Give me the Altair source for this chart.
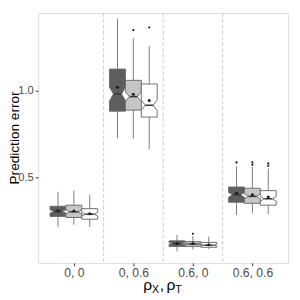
import altair as alt
import pandas as pd

groups = ["0, 0", "0, 0.6", "0.6, 0", "0.6, 0.6"]
methods = ["M1", "M2", "M3"]
fills = ["#5e5e5e", "#c6c6c6", "#ffffff"]

# values per group (rows) and method (columns)
q1 = [[0.274, 0.268, 0.258], [0.882, 0.888, 0.848], [0.101, 0.101, 0.096], [0.356, 0.350, 0.339]]
med = [[0.303, 0.301, 0.287], [0.981, 0.966, 0.916], [0.118, 0.115, 0.108], [0.399, 0.390, 0.376]]
q3 = [[0.333, 0.339, 0.319], [1.125, 1.060, 1.039], [0.133, 0.129, 0.124], [0.444, 0.437, 0.423]]
lo = [[0.213, 0.226, 0.213], [0.726, 0.725, 0.661], [0.073, 0.083, 0.086], [0.283, 0.292, 0.288]]
hi = [[0.417, 0.423, 0.399], [1.416, 1.303, 1.258], [0.167, 0.161, 0.157], [0.563, 0.559, 0.551]]
mean = [[0.307, 0.305, 0.290], [1.020, 0.980, 0.944], [0.118, 0.118, 0.111], [0.408, 0.399, 0.386]]
n_obs = 100

out_group = [1, 1, 2, 3, 3, 3, 3, 3]
out_method = [1, 2, 1, 0, 1, 1, 2, 2]
out_value = [1.350, 1.365, 0.174, 0.586, 0.587, 0.573, 0.581, 0.567]

dodge = 0.8 / 3
hw = dodge / 2

poly, box = [], []
for g in range(len(groups)):
    for m in range(len(methods)):
        c = g + (m - 1) * dodge
        a, md, b = q1[g][m], med[g][m], q3[g][m]
        nh = 1.58 * (b - a) / n_obs ** 0.5
        nlo, nhi = max(a, md - nh), min(b, md + nh)
        bid = f"{g}-{m}"
        for yv, w in [(a, hw), (nlo, hw), (md, hw / 2), (nhi, hw), (b, hw)]:
            poly.append({"id": bid, "method": methods[m], "y": yv, "xl": c - w, "xr": c + w})
        box.append({"id": bid, "method": methods[m], "c": c, "ml": c - hw / 2, "mr": c + hw / 2,
                    "q1": a, "med": md, "q3": b, "lo": lo[g][m], "hi": hi[g][m], "mean": mean[g][m]})
poly = pd.DataFrame(poly)
box = pd.DataFrame(box)
outs = pd.DataFrame({"x": [g + (m - 1) * dodge for g, m in zip(out_group, out_method)],
                     "v": out_value})
seps = pd.DataFrame({"x": [0.5, 1.5, 2.5]})

label_expr = "[" + ",".join(f"'{g}'" for g in groups) + "][datum.value]"
X = alt.Scale(domain=[-0.6, 3.6], nice=False, zero=False)
Y = alt.Scale(domain=[0.0056, 1.449], nice=False, zero=False)

xaxis = alt.Axis(values=[0, 1, 2, 3], labelExpr=label_expr, title=None, grid=False,
                 domain=False, tickSize=3, tickColor="#333333", labelColor="#4d4d4d",
                 labelFontSize=12.5, labelPadding=1, labelFont="Liberation Sans")
yaxis = alt.Axis(values=[0.5, 1.0], format=".1f", title="Prediction error", grid=False,
                 domain=False, tickSize=3, tickColor="#333333", labelColor="#4d4d4d",
                 labelFontSize=11.5, labelPadding=2, labelFont="Liberation Sans",
                 titleFont="Liberation Sans", titleFontSize=14, titleFontWeight="normal",
                 titleColor="#000000", titleX=-31, titleY=128, titleAngle=270,
                 titleAlign="center", titleBaseline="top")

sep = alt.Chart(seps).mark_rule(color="#cccccc", strokeDash=[4, 2], strokeWidth=1).encode(
    x=alt.X("x:Q", scale=X, axis=xaxis))

whisk_up = alt.Chart(box).mark_rule(color="#7a7a7a", strokeWidth=1).encode(
    x=alt.X("c:Q", scale=X), y=alt.Y("q3:Q", scale=Y, axis=yaxis), y2="hi:Q")
whisk_dn = alt.Chart(box).mark_rule(color="#7a7a7a", strokeWidth=1).encode(
    x=alt.X("c:Q", scale=X), y=alt.Y("lo:Q", scale=Y), y2="q1:Q")

boxes = alt.Chart(poly).mark_area(orient="horizontal", stroke="#6b6b6b", strokeWidth=1,
                                  fillOpacity=1).encode(
    y=alt.Y("y:Q", scale=Y),
    x=alt.X("xl:Q", scale=X),
    x2="xr:Q",
    detail="id:N",
    fill=alt.Fill("method:N", scale=alt.Scale(domain=methods, range=fills), legend=None))

medl = alt.Chart(box).mark_rule(color="#3a3a3a", strokeWidth=1.6).encode(
    x=alt.X("ml:Q", scale=X), x2="mr:Q", y=alt.Y("med:Q", scale=Y))

means = alt.Chart(box).mark_point(shape="circle", filled=True, size=10, color="#1f1f1f",
                                  opacity=1).encode(
    x=alt.X("c:Q", scale=X), y=alt.Y("mean:Q", scale=Y))

outl = alt.Chart(outs).mark_circle(size=5, color="#111111", opacity=1).encode(
    x=alt.X("x:Q", scale=X), y=alt.Y("v:Q", scale=Y))

tdf = pd.DataFrame({"a": [0]})
def txt(s, x, y, size):
    return alt.Chart(tdf).mark_text(text=s, align="left", baseline="alphabetic",
                                    font="Liberation Sans", fontSize=size, color="#000000").encode(
        x=alt.value(x), y=alt.value(y))

xtitle = [txt("ρ", 108, 285, 16), txt("X", 117, 288, 11), txt(",", 125, 285, 16),
          txt("ρ", 132, 285, 16), txt("T", 141, 288, 11)]

chart = alt.layer(sep, whisk_up, whisk_dn, boxes, medl, means, outl, *xtitle).properties(
    width=257, height=257,
    autosize=alt.AutoSizeParams(type="none"),
    padding={"left": 31, "top": 1, "right": 4, "bottom": 34},
).configure_view(stroke="#333333", strokeWidth=1).configure(background="white")

chart.save("out.html", embed_options={"renderer": "svg", "actions": False})
